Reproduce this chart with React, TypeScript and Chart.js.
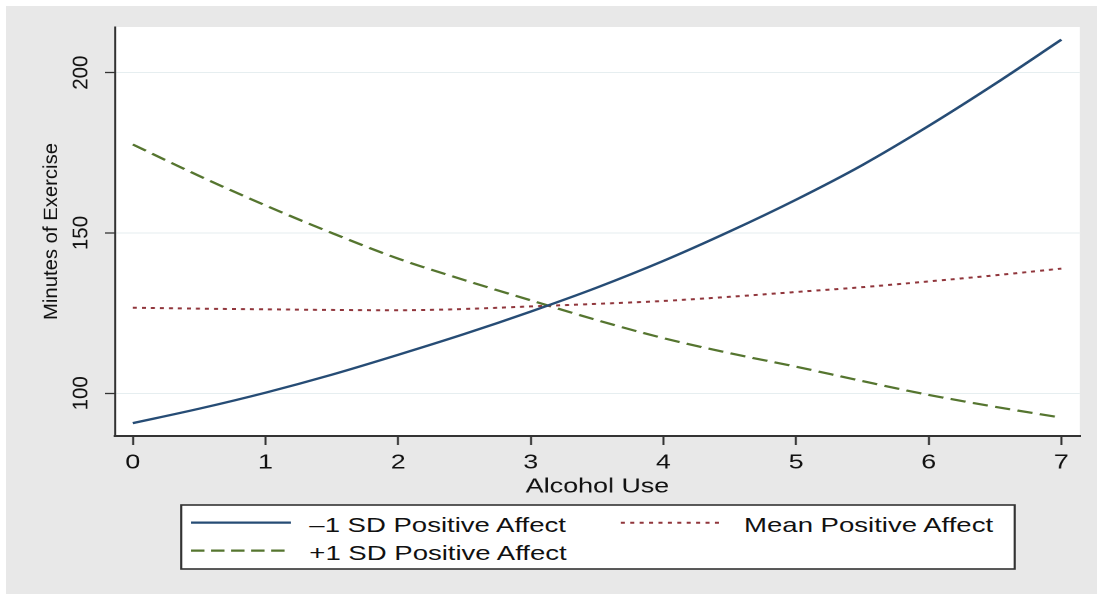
import React, { useEffect, useRef } from 'react';
import { Chart, registerables } from 'chart.js';

Chart.register(...registerables);

// ---- data ----
const ALCOHOL_USE = [0, 0.5, 1, 1.5, 2, 2.5, 3, 3.5, 4, 4.5, 5, 5.5, 6, 6.5, 7];
const LOW_PA = [90.7, 95.2, 100.2, 105.8, 112.0, 118.5, 125.5, 133.0, 141.3, 150.5, 160.4, 171.2, 183.4, 196.5, 210.3];
const MEAN_PA = [126.7, 126.4, 126.2, 126.0, 125.9, 126.3, 127.1, 127.9, 128.8, 130.1, 131.6, 133.1, 134.9, 136.8, 138.9];
const HIGH_PA = [177.6, 167.8, 158.6, 150.0, 142.0, 135.3, 129.0, 122.8, 117.2, 112.5, 108.3, 103.8, 99.5, 95.8, 92.4];
const X_TICKS = [0, 1, 2, 3, 4, 5, 6, 7];
const Y_TICKS = [100, 150, 200];
const SERIES_LABELS = ['\u20131 SD Positive Affect', 'Mean Positive Affect', '+1 SD Positive Affect'];
const X_TITLE = 'Alcohol Use';
const Y_TITLE = 'Minutes of Exercise';

// ---- styling ----
const LOGICAL_W = 816;
const STRETCH = 1097 / LOGICAL_W;
const FONT = '"Liberation Sans", Arial, Helvetica, sans-serif';
const NAVY = '#264c75';
const MAROON = '#90353b';
const GREEN = '#55752f';
const TEXT = '#111111';
const AXIS = '#333333';

export default function App() {
  const ref = useRef<HTMLCanvasElement>(null);

  useEffect(() => {
    if (!ref.current) return;
    const plotBg = {
      id: 'plotBg',
      beforeDraw(chart: any) {
        const { ctx, chartArea: a } = chart;
        ctx.save();
        ctx.fillStyle = '#ffffff';
        ctx.fillRect(a.left, a.top, a.right - a.left, a.bottom - a.top);
        ctx.restore();
      },
    };
    // vertical (rotated) y-axis text, drawn un-stretched like the reference
    const yText = {
      id: 'yText',
      afterDraw(chart: any) {
        const { ctx, chartArea: a } = chart;
        const ys = chart.scales.y;
        ctx.save();
        ctx.font = `20.5px ${FONT}`;
        ctx.fillStyle = TEXT;
        ctx.textAlign = 'center';
        ctx.textBaseline = 'middle';
        for (const t of ys.ticks) {
          const py = ys.getPixelForValue(t.value);
          ctx.save();
          ctx.translate(60.6, py);
          ctx.scale(1 / STRETCH, 1);
          ctx.rotate(-Math.PI / 2);
          ctx.fillText(String(t.label ?? t.value), 0, 0);
          ctx.restore();
        }
        ctx.save();
        ctx.translate(38.3, (a.top + a.bottom) / 2);
        ctx.scale(1 / STRETCH, 1);
        ctx.rotate(-Math.PI / 2);
        ctx.font = `20.3px ${FONT}`;
        ctx.fillText(Y_TITLE, 0, 0);
        ctx.restore();
        ctx.restore();
      },
    };
    const toPts = (ys: number[]) => ALCOHOL_USE.map((x, i) => ({ x, y: ys[i] }));
    const font = { family: FONT, size: 20 };
    const chart = new Chart(ref.current, {
      type: 'line',
      data: {
        datasets: [
          {
            label: SERIES_LABELS[0],
            data: toPts(LOW_PA),
            borderColor: NAVY,
            borderWidth: 2.3,
            pointRadius: 0,
            cubicInterpolationMode: 'monotone',
          },
          {
            label: SERIES_LABELS[1],
            data: toPts(MEAN_PA),
            borderColor: MAROON,
            borderWidth: 2,
            borderDash: [3, 3.7],
            pointRadius: 0,
            cubicInterpolationMode: 'monotone',
          },
          {
            label: SERIES_LABELS[2],
            data: toPts(HIGH_PA),
            borderColor: GREEN,
            borderWidth: 2.2,
            borderDash: [11.5, 5.5],
            pointRadius: 0,
            cubicInterpolationMode: 'monotone',
          },
        ],
      },
      options: {
        animation: false,
        responsive: false,
        devicePixelRatio: 2,
        layout: { padding: { left: 0, right: 12.7, top: 27, bottom: 95 } },
        plugins: { legend: { display: false }, tooltip: { enabled: false } },
        scales: {
          x: {
            type: 'linear',
            min: -0.135,
            max: 7.14,
            afterBuildTicks: (s: any) => {
              s.ticks = X_TICKS.map((v) => ({ value: v }));
            },
            afterFit: (s: any) => {
              s.height = 63;
            },
            grid: { drawOnChartArea: false, drawTicks: true, tickLength: 9, tickColor: AXIS, tickWidth: 1.5 },
            border: { display: true, color: AXIS, width: 2 },
            ticks: { padding: 6, font, color: TEXT, maxRotation: 0, minRotation: 0, autoSkip: false },
            title: { display: true, text: X_TITLE, font, color: TEXT, padding: { top: 0, bottom: 0 } },
          },
          y: {
            type: 'linear',
            min: 86.68,
            max: 214.25,
            afterBuildTicks: (s: any) => {
              s.ticks = Y_TICKS.map((v) => ({ value: v }));
            },
            afterFit: (s: any) => {
              s.width = 85.5;
            },
            grid: { color: '#e6eef0', lineWidth: 1, drawTicks: true, tickLength: 7.5, tickColor: AXIS, tickWidth: 1.3 },
            border: { display: true, color: AXIS, width: 1.5 },
            ticks: { padding: 1, font, color: 'rgba(0,0,0,0)', autoSkip: false },
            title: { display: false, text: Y_TITLE },
          },
        },
      },
      plugins: [plotBg, yText],
    } as any);
    return () => chart.destroy();
  }, []);

  // legend geometry (logical, pre-stretch units)
  const LW = 621.6;
  const LH = 66;
  const sx0 = 8.1;
  const sx1 = 82.4;
  const tx = 96.1;
  const mx0 = 327.8;
  const mx1 = 401.7;
  const mtx = 419.5;
  const r1 = 18.7;
  const r2 = 46.7;

  return (
    <div style={{ position: 'absolute', left: 0, top: 0, width: 1097, height: 594, overflow: 'hidden', background: '#ffffff' }}>
      <div style={{ position: 'absolute', left: 6, top: 6, right: 0, bottom: 0, background: '#e8e8e8' }} />
      <div
        style={{
          position: 'absolute',
          left: 0,
          top: 0,
          width: LOGICAL_W,
          height: 594,
          transform: `scaleX(${STRETCH})`,
          transformOrigin: '0 0',
        }}
      >
        <canvas ref={ref} width={LOGICAL_W} height={594} style={{ position: 'absolute', left: 0, top: 0 }} />
        <svg
          width={LW}
          height={LH}
          style={{ position: 'absolute', left: 133.9, top: 504, overflow: 'visible' }}
          fontFamily={FONT}
          fontSize={20.5}
        >
          <rect x={0.8} y={1} width={LW - 1.6} height={LH - 2} fill="#ffffff" stroke={AXIS} strokeWidth={1.6} />
          <line x1={sx0} x2={sx1} y1={r1} y2={r1} stroke={NAVY} strokeWidth={2.2} />
          <text x={tx} y={27.7} fill={TEXT}>{SERIES_LABELS[0]}</text>
          <line x1={mx0} x2={mx1} y1={r1} y2={r1} stroke={MAROON} strokeWidth={2} strokeDasharray="3 4" />
          <text x={mtx} y={27.7} fill={TEXT}>{SERIES_LABELS[1]}</text>
          <line x1={sx0} x2={sx1} y1={r2} y2={r2} stroke={GREEN} strokeWidth={2.2} strokeDasharray="10 4.9" />
          <text x={tx} y={56} fill={TEXT}>{SERIES_LABELS[2]}</text>
        </svg>
      </div>
    </div>
  );
}
